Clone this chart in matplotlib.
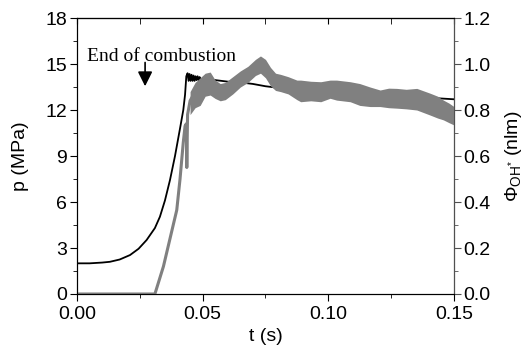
import matplotlib
matplotlib.use("Agg")
import matplotlib.pyplot as plt
from matplotlib.ticker import MultipleLocator

plt.rcParams['font.family'] = ['Liberation Sans', 'DejaVu Sans']
plt.rcParams['mathtext.fontset'] = 'custom'
plt.rcParams['mathtext.rm'] = 'Liberation Sans'
plt.rcParams['mathtext.it'] = 'Liberation Sans:italic'

# presion (MPa) en funcion del tiempo (s)
t_p = [0.0, 0.005, 0.010, 0.0131, 0.017, 0.0211, 0.0245, 0.0277, 0.031, 0.033,
       0.035, 0.037, 0.039, 0.041, 0.0423, 0.043, 0.0435, 0.044, 0.0444, 0.0448,
       0.0452, 0.0456, 0.046, 0.0464, 0.0468, 0.0472, 0.0476, 0.048, 0.0484,
       0.0488, 0.049, 0.050, 0.052,
       0.055, 0.060, 0.065, 0.070, 0.075, 0.080, 0.090, 0.100, 0.110, 0.120,
       0.130, 0.140, 0.150]
p = [2.0, 2.0, 2.05, 2.1, 2.25, 2.54, 2.95, 3.52, 4.3, 5.04,
     6.1, 7.43, 9.0, 10.8, 12.0, 13.0, 14.2, 14.4, 13.9, 14.35,
     13.9, 14.3, 13.9, 14.25, 13.9, 14.2, 13.95, 14.2, 13.95,
     14.15, 14.0, 14.05, 14.0,
     13.95, 13.85, 13.8, 13.7, 13.55, 13.45, 13.3, 13.2, 13.1, 13.0,
     12.9, 12.8, 12.7]

# subida de la emision OH* (nlm)
t_oh = [0.0, 0.031, 0.0344, 0.0397, 0.041, 0.0423, 0.043, 0.0435, 0.0437, 0.0440,
        0.045, 0.046]
oh = [0.0, 0.0, 0.12, 0.365, 0.50, 0.66, 0.73, 0.74, 0.55, 0.78,
      0.84, 0.86]

# banda ruidosa de OH*: limite inferior y superior
t_band = [0.045, 0.047, 0.049, 0.051, 0.053, 0.055, 0.057, 0.059, 0.062, 0.065,
          0.068, 0.071, 0.073, 0.075, 0.077, 0.079, 0.081, 0.084, 0.0875, 0.089,
          0.093, 0.097, 0.1007, 0.1033, 0.1087, 0.1125, 0.1166, 0.1206, 0.124,
          0.1272, 0.131, 0.1352, 0.1405, 0.1435, 0.1458, 0.148, 0.150]
oh_low = [0.78, 0.81, 0.82, 0.86, 0.865, 0.85, 0.84, 0.845, 0.87, 0.90,
          0.92, 0.95, 0.96, 0.94, 0.905, 0.885, 0.88, 0.87, 0.845, 0.836,
          0.84, 0.836, 0.851, 0.843, 0.836, 0.82, 0.815, 0.815, 0.81,
          0.808, 0.805, 0.80, 0.778, 0.765, 0.757, 0.745, 0.735]
oh_up = [0.88, 0.92, 0.94, 0.96, 0.965, 0.93, 0.915, 0.92, 0.945, 0.97,
         0.99, 1.02, 1.035, 1.02, 0.985, 0.96, 0.955, 0.945, 0.93, 0.93,
         0.925, 0.923, 0.93, 0.93, 0.923, 0.915, 0.90, 0.887, 0.895,
         0.894, 0.89, 0.894, 0.873, 0.86, 0.843, 0.83, 0.815]

fig = plt.figure(figsize=(5.28, 3.61), dpi=100)
ax = fig.add_axes([0.1458, 0.1856, 0.714, 0.7645])
ax2 = ax.twinx()

# presion debajo, OH* encima
ax.plot(t_p, p, color='black', lw=1.3, zorder=3)
ax2.plot(t_oh, oh, color='#808080', lw=2.2, zorder=2)
ax2.fill_between(t_band, oh_low, oh_up, color='#808080', lw=0, zorder=2)

ax.set_xlim(0, 0.15)
ax.set_ylim(0, 18)
ax2.set_ylim(0, 1.2)
ax.xaxis.set_major_locator(MultipleLocator(0.05))
ax.xaxis.set_minor_locator(MultipleLocator(0.025))
ax.yaxis.set_major_locator(MultipleLocator(3))
ax.yaxis.set_minor_locator(MultipleLocator(1.5))
ax2.yaxis.set_major_locator(MultipleLocator(0.2))
ax2.yaxis.set_minor_locator(MultipleLocator(0.1))
ax.xaxis.set_major_formatter(plt.FormatStrFormatter('%.2f'))
ax2.yaxis.set_major_formatter(plt.FormatStrFormatter('%.1f'))

ax.tick_params(axis='x', which='both', direction='out', top=False, labelsize=14)
ax.tick_params(axis='x', which='major', length=5)
ax.tick_params(axis='x', which='minor', length=3)
ax.tick_params(axis='y', which='both', direction='out', labelsize=14, pad=2)
ax.tick_params(axis='y', which='major', length=5)
ax.tick_params(axis='y', which='minor', length=3)
ax2.tick_params(axis='y', which='both', direction='out', labelsize=14, colors='#505050',
                labelcolor='black', pad=2)
ax2.tick_params(axis='y', which='major', length=5)
ax2.tick_params(axis='y', which='minor', length=3)
ax2.spines['right'].set_color('#505050')

# ticks superiores hacia adentro
sec = ax.secondary_xaxis('top')
sec.xaxis.set_major_locator(MultipleLocator(0.05))
sec.xaxis.set_minor_locator(MultipleLocator(0.025))
sec.tick_params(which='both', direction='in', labeltop=False, length=4)

ax.set_xlabel('t (s)', fontsize=14, labelpad=4)
ax.set_ylabel('p (MPa)', fontsize=14, labelpad=12)
ax2.set_ylabel(r'$\Phi_{\mathrm{OH^{*}}}$ (nlm)', fontsize=14, labelpad=9)

ax2.text(0.004, 15.5 / 15, 'End of combustion', family='Liberation Serif', fontsize=14,
         ha='left', va='center')
ax2.annotate('', xy=(0.0271, 13.55 / 15), xytext=(0.0271, 15.1 / 15),
             arrowprops=dict(arrowstyle='-|>', color='black', lw=1.2,
                             mutation_scale=22, shrinkA=0, shrinkB=0))

fig.savefig('out.png', dpi=100)
